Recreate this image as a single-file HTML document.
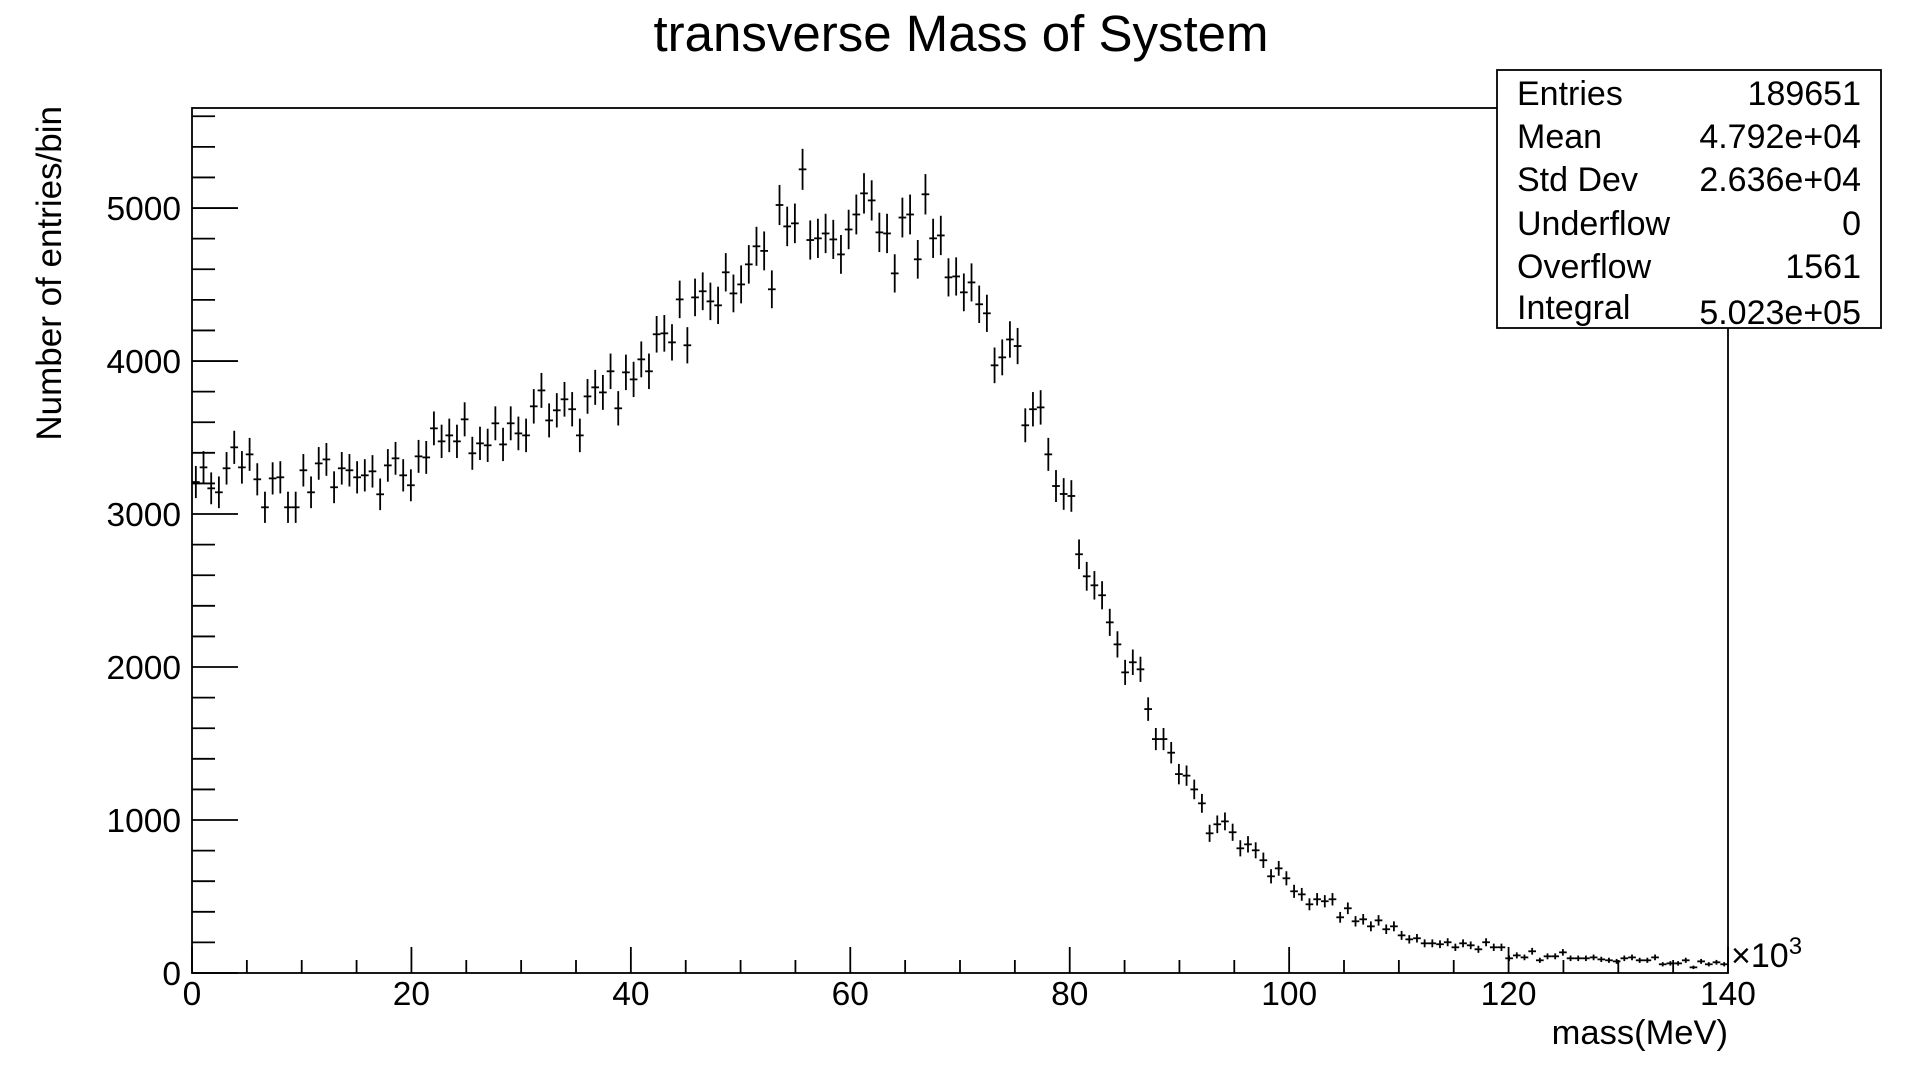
<!DOCTYPE html>
<html><head><meta charset="utf-8"><style>
html,body{margin:0;padding:0;background:#fff;}
svg{display:block;font-family:"Liberation Sans",sans-serif;}
</style></head>
<body>
<svg id="chart" width="1920" height="1080" viewBox="0 0 1920 1080" xmlns="http://www.w3.org/2000/svg">
<rect x="0" y="0" width="1920" height="1080" fill="#fff"/>
<text x="961" y="51" font-size="51" text-anchor="middle">transverse Mass of System</text>
<g id="axes"></g>
<g id="marks"></g>
<text x="1728" y="1044" font-size="34.5" text-anchor="end">mass(MeV)</text>
<text x="1731" y="967" font-size="34">×10<tspan font-size="24" dy="-13">3</tspan></text>
<text transform="translate(61,106) rotate(-90)" font-size="35" text-anchor="end">Number of entries/bin</text>
<g>
<rect x="1497" y="70" width="384" height="258" fill="#fff" stroke="#000" stroke-width="1.8"/>
<g font-size="34">
<text x="1517" y="105">Entries</text><text x="1861" y="105" text-anchor="end">189651</text>
<text x="1517" y="148">Mean</text><text x="1861" y="148" text-anchor="end">4.792e+04</text>
<text x="1517" y="191">Std Dev</text><text x="1861" y="191" text-anchor="end">2.636e+04</text>
<text x="1517" y="235">Underflow</text><text x="1861" y="235" text-anchor="end">0</text>
<text x="1517" y="278">Overflow</text><text x="1861" y="278" text-anchor="end">1561</text>
<text x="1517" y="319">Integral</text><text x="1861" y="324" text-anchor="end">5.023e+05</text>
</g></g>
</svg>
<script>
const binCounts = [3209,3305,3168,3142,3299,3436,3305,3390,3227,3044,3233,3240,3044,3044,3286,3142,3331,3357,3175,3299,
3286,3240,3253,3279,3129,3318,3364,3253,3188,3377,3370,3560,3475,3514,3475,3619,3397,3462,3449,3593,
3455,3593,3527,3514,3704,3808,3612,3678,3750,3685,3514,3769,3828,3795,3933,3691,3926,3880,4011,3933,
4175,4181,4122,4403,4103,4416,4456,4390,4364,4580,4442,4501,4632,4750,4720,4469,5020,4880,4900,5253,
4791,4802,4834,4795,4697,4860,4958,5096,5050,4841,4834,4573,4938,4958,4665,5090,4802,4821,4547,4553,
4449,4514,4371,4312,3972,4024,4141,4098,3580,3685,3697,3390,3183,3131,3118,2737,2593,2534,2469,2292,
2148,1965,2031,1985,1725,1529,1529,1440,1300,1290,1200,1109,913,972,991,920,815,841,802,737,
632,684,619,534,514,449,482,469,482,364,423,338,351,305,344,286,305,246,220,227,
194,194,188,201,168,194,181,155,201,168,168,96,115,102,142,83,109,109,135,96,
96,96,102,89,83,76,96,102,83,83,102,57,63,63,83,37,76,57,70,57];
const xRange = [0, 140];
const yRange = [0, 5654];
const xTickLabels = ["0","20","40","60","80","100","120","140"];
const yTickLabels = ["0","1000","2000","3000","4000","5000"];

const L=192,R=1728,T=108,B=973;
function xs(v){return L+(v-xRange[0])/(xRange[1]-xRange[0])*(R-L);}
function ys(v){return B-(v-yRange[0])/(yRange[1]-yRange[0])*(B-T);}
const NS="http://www.w3.org/2000/svg";
function mk(tag,attrs,parent){const e=document.createElementNS(NS,tag);for(const k in attrs)e.setAttribute(k,attrs[k]);parent.appendChild(e);return e;}
const axes=document.getElementById('axes');
const frame=mk('rect',{x:L,y:T,width:R-L,height:B-T,fill:'none',stroke:'#000','stroke-width':1.8},axes);


for(let v=0;v<=yRange[1];v+=200){
  const maj=v%1000===0;
  const t=mk('line',{x1:L,x2:L+(maj?46:23),y1:ys(v),y2:ys(v),stroke:'#000','stroke-width':1.8},axes);
  
  
}
yTickLabels.forEach(s=>{
  const v=parseFloat(s);
  const t=mk('text',{x:181,y:ys(v)+12,'font-size':33.5,'text-anchor':'end'},axes);
  t.textContent=s;
  
  
});
for(let v=0;v<=xRange[1];v+=5){
  const maj=v%20===0;
  const t=mk('line',{x1:xs(v),x2:xs(v),y1:B,y2:B-(maj?26:13),stroke:'#000','stroke-width':1.8},axes);
  
  
}
xTickLabels.forEach(s=>{
  const v=parseFloat(s);
  const t=mk('text',{x:xs(v),y:1005,'font-size':33.5,'text-anchor':'middle'},axes);
  t.textContent=s;
  
  
});
const marks=document.getElementById('marks');
const bw=(xRange[1]-xRange[0])/binCounts.length;
binCounts.forEach((c,i)=>{
  const x0=xRange[0]+i*bw, xc=x0+bw/2;
  const err=1.85*Math.sqrt(c);
  const g=mk('g',{},marks);
  
  
  mk('line',{x1:xs(x0),x2:xs(x0+bw),y1:ys(c),y2:ys(c),stroke:'#000','stroke-width':1.8},g);
  mk('line',{x1:xs(xc),x2:xs(xc),y1:ys(Math.max(0,c-err)),y2:ys(c+err),stroke:'#000','stroke-width':1.8},g);
});
</script>
</body></html>
